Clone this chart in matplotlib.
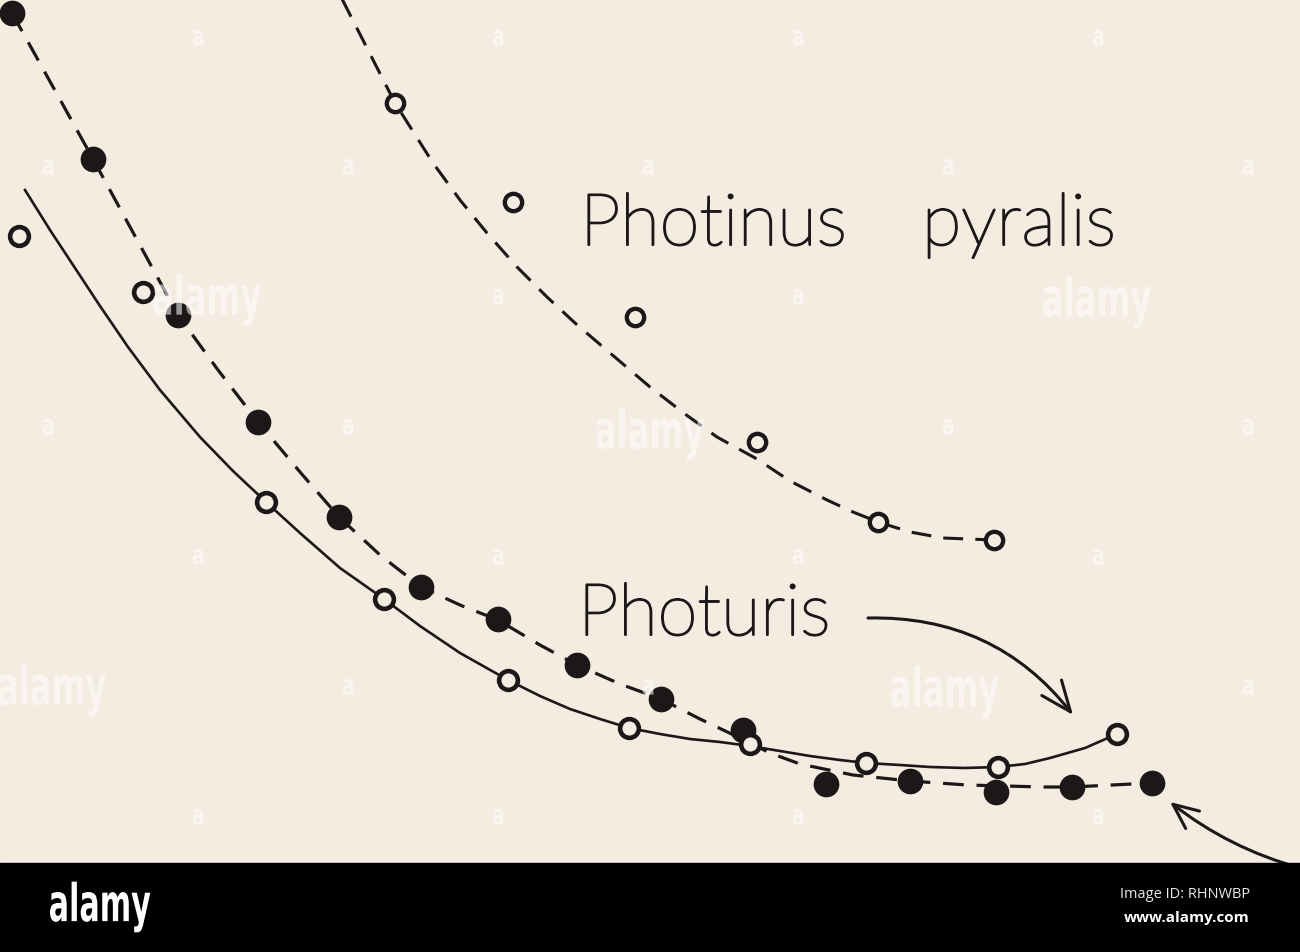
import matplotlib
matplotlib.use("Agg")
import matplotlib.pyplot as plt
import matplotlib.patheffects as pe
from matplotlib.patches import FancyArrowPatch, Rectangle, PathPatch
from matplotlib.textpath import TextPath
from matplotlib.font_manager import FontProperties
from matplotlib.transforms import Affine2D

# everything below is read off the scan, in picture units (x right, y down)
# unlabelled species, filled dots + dashed curve
filled_x = [12, 93, 178, 258, 339, 421, 498, 577, 661, 743, 826, 910, 996, 1072, 1152]
filled_y = [13, 159, 315, 422, 517, 587, 619, 665, 699, 730, 784, 781, 792, 787, 783]
filled_fit_x = [12, 93, 178, 218, 258, 300, 339, 380, 421, 460, 498, 540, 577, 620, 661, 700, 740,
                770, 800, 853, 910, 967, 1043, 1072, 1152]
filled_fit_y = [13, 159, 315, 370, 422, 472, 517, 555, 587, 605, 620, 645, 665, 684, 699, 719, 738,
                753, 764, 775, 781, 785, 787, 787, 783]

# Photuris, open circles + solid curve
photuris_x = [19, 143, 266, 384, 508, 629, 750, 866, 998, 1117]
photuris_y = [236, 292, 502, 599, 680, 728, 744, 763, 767, 734]
photuris_fit_x = [25, 50, 75, 100, 128, 160, 200, 233, 266, 300, 340, 384, 420, 460, 508, 540, 570,
                  600, 629, 660, 690, 720, 750, 780, 810, 840, 866, 900, 930, 965, 998, 1025, 1050,
                  1085, 1117]
photuris_fit_y = [190, 230, 268, 306, 347, 390, 437, 471, 502, 533, 568, 599, 626, 653, 680, 696, 709,
                  719, 728, 734, 739, 742, 746, 751, 756, 760, 763, 765, 767, 768, 767, 764, 758,
                  748, 734]

# Photinus pyralis, small open circles + dashed curve
pyralis_x = [395, 513, 635, 757, 878, 994]
pyralis_y = [103, 202, 317, 442, 522, 540]
pyralis_fit_x = [340, 368, 395, 433, 460, 487, 517, 547, 575, 603, 650, 685, 717, 757, 790, 827, 853,
                 878, 910, 943, 994]
pyralis_fit_y = [-5, 50, 103, 163, 200, 233, 267, 297, 323, 347, 387, 414, 437, 459, 481, 500, 512,
                 522, 532, 538, 540]

# faint stock-photo watermark
wm_small_x = [198, 498, 798, 1098, 48, 348, 648, 948, 1248, 498, 798,
              48, 348, 948, 1248, 198, 498, 798, 1098, 348, 648, 1248,
              198, 498, 798, 1098]
wm_small_y = [38, 38, 38, 38, 167, 167, 167, 167, 167, 297, 297,
              427, 427, 427, 427, 557, 557, 557, 557, 687, 687, 687,
              817, 817, 817, 817]
wm_big_x = [207, 1097, 650, 945, 52]
wm_big_y = [300, 302, 434, 692, 690]

bg = "#f4ebe1"
ink = "#1c1818"

fig = plt.figure(figsize=(13, 9.52), dpi=100)
ax = fig.add_axes([0, 0, 1, 1])
ax.set_xlim(0, 1300)
ax.set_ylim(952, 0)
ax.axis("off")
fig.patch.set_facecolor(bg)

dash = (0, (6.5, 4))
ax.plot(filled_fit_x, filled_fit_y, color=ink, lw=2.3, linestyle=dash, zorder=2)
ax.plot(photuris_fit_x, photuris_fit_y, color=ink, lw=1.9, zorder=2)
ax.plot(pyralis_fit_x, pyralis_fit_y, color=ink, lw=2.2, linestyle=dash, zorder=2)

ax.plot(filled_x, filled_y, "o", ms=18.5, mfc=ink, mec=ink, mew=0, zorder=3)
ax.plot(photuris_x, photuris_y, "o", ms=13.5, mfc=bg, mec=ink, mew=3.3, zorder=3)
ax.plot(pyralis_x, pyralis_y, "o", ms=12.5, mfc=bg, mec=ink, mew=3.1, zorder=3)

# thin geometric lettering: light face, thickened a little
thick = [pe.withStroke(linewidth=1.4, foreground=ink)]
lab = dict(color=ink, fontsize=52, family="Lato", fontweight="light", va="baseline",
           ha="left", path_effects=thick)
ax.text(580, 245, "Photinus", **lab)
ax.text(922, 245, "pyralis", **lab)
ax.text(578, 635, "Photuris", **lab)

a1 = FancyArrowPatch((868, 618), (1073, 715), connectionstyle="arc3,rad=-0.25",
                     arrowstyle="->,head_length=1.1,head_width=0.45", mutation_scale=20,
                     color=ink, lw=2.2, zorder=3, shrinkA=0, shrinkB=0)
ax.add_patch(a1)
a2 = FancyArrowPatch((1300, 868), (1170, 802), connectionstyle="arc3,rad=-0.1",
                     arrowstyle="->,head_length=0.9,head_width=0.4", mutation_scale=20,
                     color=ink, lw=2.2, zorder=3, shrinkA=0, shrinkB=0)
ax.add_patch(a2)

bold = FontProperties(family="DejaVu Sans", weight="bold")


def squeezed(s, x, y, size, sx, color, alpha, z, ha="center"):
    # narrow bold lettering, like the watermark face
    tp = TextPath((0, 0), s, size=size, prop=bold)
    bb = tp.get_extents()
    w = bb.width * sx
    x0 = x - w / 2 if ha == "center" else x
    tr = Affine2D().translate(-bb.x0, -(bb.y0 + bb.y1) / 2).scale(sx, -1).translate(x0, y)
    ax.add_patch(PathPatch(tr.transform_path(tp), color=color, alpha=alpha, lw=0, zorder=z))


for x, y in zip(wm_small_x, wm_small_y):
    squeezed("a", x, y, 28, 0.7, "white", 0.55, 5)
for x, y in zip(wm_big_x, wm_big_y):
    squeezed("alamy", x, y, 54, 0.6, "white", 0.55, 5)

# black strip at the bottom
ax.add_patch(Rectangle((0, 863), 1300, 90, color="black", zorder=10))
squeezed("alamy", 50, 907, 52, 0.58, "white", 1.0, 11, ha="left")
ax.text(1250, 894, "Image ID: RHNWBP", color="#e8e8e8", fontsize=10.5,
        family="Open Sans", ha="right", va="center", zorder=11)
ax.text(1250, 918, "www.alamy.com", color="white", fontsize=11, fontweight="bold",
        family="Open Sans", ha="right", va="center", zorder=11)

fig.savefig("out.png", dpi=100, facecolor=bg)
